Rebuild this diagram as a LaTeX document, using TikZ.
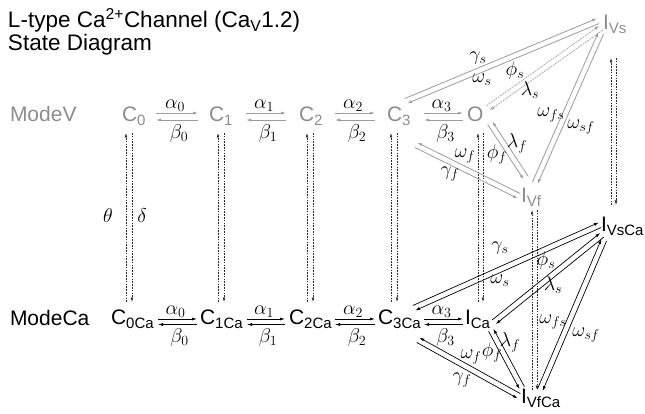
\documentclass[tikz,border=0pt]{standalone}
\usepackage{fix-cm}
\usepackage{fontspec}
\setmainfont{Liberation Sans}
\usetikzlibrary{calc,arrows.meta}
\definecolor{tg}{RGB}{140,140,140}
\definecolor{lg}{RGB}{155,155,155}
\newcommand\nsub[1]{\raisebox{-4pt}{\fontsize{15}{15}\selectfont #1}}
% two opposite parallel arrows between #1 and #2; #4 = side angle for #1->#2
\newcommand\twoway[4]{%
  \draw[#3] ($#1!2.75pt!#4:#2$) -- ($#2!-2.75pt!#4:#1$);
  \draw[#3] ($#2!2.75pt!#4:#1$) -- ($#1!-2.75pt!#4:#2$);}
\tikzset{
  every node/.style={inner sep=0pt, outer sep=0pt},
  st/.style={font=\fontsize{21}{25}\selectfont, anchor=base west},
  stv/.style={st, text=tg},
  ttl/.style={font=\fontsize{22.5}{27}\selectfont, anchor=base west},
  lab/.style={font=\fontsize{20}{24}\selectfont},
  ga/.style={draw=lg, line width=0.8pt, -{Latex[length=5pt,width=3pt]}},
  gd/.style={ga, line width=0.6pt, dash pattern=on 2pt off 0.8pt},
  ba/.style={draw=black, line width=0.7pt, -{Latex[length=5pt,width=3pt]}},
  da/.style={draw=black!85, line width=0.6pt, dash pattern=on 1.6pt off 1.2pt, -{Latex[length=4.5pt,width=2.8pt]}},
}
\begin{document}
\begin{tikzpicture}[x=1pt,y=-1pt]
\useasboundingbox (0,0) rectangle (645,414);
\node[ttl] (title1) at (8,28) {L-type Ca\textsuperscript{2+}Channel (Ca\textsubscript{V}1.2)};
\node[ttl] (title2) at (8,51) {State Diagram};

% top layer (ModeV)
\node[stv] (ModeV) at (10,122) {ModeV};
\node[stv] (C0) at (122,122) {C\nsub{0}};
\node[stv] (C1) at (209,122) {C\nsub{1}};
\node[stv] (C2) at (299,122) {C\nsub{2}};
\node[stv] (C3) at (387,122) {C\nsub{3}};
\node[stv] (O)  at (467,122) {O};
\node[stv] (IVs) at (603,30) {I\nsub{Vs}};
\node[stv] (IVf) at (521,203) {I\nsub{Vf}};

% bottom layer (ModeCa)
\node[st] (ModeCa) at (10,325) {ModeCa};
\node[st] (C0Ca) at (111,324) {C\nsub{0Ca}};
\node[st] (C1Ca) at (200,324) {C\nsub{1Ca}};
\node[st] (C2Ca) at (289,324) {C\nsub{2Ca}};
\node[st] (C3Ca) at (378,324) {C\nsub{3Ca}};
\node[st] (ICa)  at (465,324) {I\nsub{Ca}};
\node[st] (IVsCa) at (601,232) {I\nsub{VsCa}};
\node[st] (IVfCa) at (521,403) {I\nsub{VfCa}};

% top horizontal arrows
\draw[ga] ([shift={(34,-9)}]C0.base west) -- node[lab,above=1.5pt,xshift=-2pt] (a0) {$\alpha_0$} ([shift={(-11,-9)}]C1.base west);
\draw[ga] ([shift={(-11,-2)}]C1.base west) -- node[lab,below=4.5pt,xshift=2pt] (b0) {$\beta_0$} ([shift={(34,-2)}]C0.base west);
\draw[ga] ([shift={(37,-9)}]C1.base west) -- node[lab,above=1.5pt,xshift=-2pt] (a1) {$\alpha_1$} ([shift={(-13,-9)}]C2.base west);
\draw[ga] ([shift={(-13,-2)}]C2.base west) -- node[lab,below=4.5pt,xshift=2pt] (b1) {$\beta_1$} ([shift={(37,-2)}]C1.base west);
\draw[ga] ([shift={(36,-9)}]C2.base west) -- node[lab,above=1.5pt,xshift=-2pt] (a2) {$\alpha_2$} ([shift={(-12,-9)}]C3.base west);
\draw[ga] ([shift={(-12,-2)}]C3.base west) -- node[lab,below=4.5pt,xshift=2pt] (b2) {$\beta_2$} ([shift={(36,-2)}]C2.base west);
\draw[ga] ([shift={(37,-9)}]C3.base west) -- node[lab,above=1.5pt,xshift=-2pt] (a3) {$\alpha_3$} ([shift={(-4,-9)}]O.base west);
\draw[ga] ([shift={(-4,-2)}]O.base west) -- node[lab,below=4.5pt,xshift=2pt] (b3) {$\beta_3$} ([shift={(37,-2)}]C3.base west);

% bottom horizontal arrows
\draw[ba] ([shift={(47,-5)}]C0Ca.base west) -- node[lab,above=1.5pt,xshift=-2pt] (a0c) {$\alpha_0$} ([shift={(-3,-5)}]C1Ca.base west);
\draw[ba] ([shift={(-3,0.5)}]C1Ca.base west) -- node[lab,below=4.5pt,xshift=2pt] (b0c) {$\beta_0$} ([shift={(47,0.5)}]C0Ca.base west);
\draw[ba] ([shift={(47,-5)}]C1Ca.base west) -- node[lab,above=1.5pt,xshift=-2pt] (a1c) {$\alpha_1$} ([shift={(-4,-5)}]C2Ca.base west);
\draw[ba] ([shift={(-4,0.5)}]C2Ca.base west) -- node[lab,below=4.5pt,xshift=2pt] (b1c) {$\beta_1$} ([shift={(47,0.5)}]C1Ca.base west);
\draw[ba] ([shift={(46,-5)}]C2Ca.base west) -- node[lab,above=1.5pt,xshift=-2pt] (a2c) {$\alpha_2$} ([shift={(-3,-5)}]C3Ca.base west);
\draw[ba] ([shift={(-3,0.5)}]C3Ca.base west) -- node[lab,below=4.5pt,xshift=2pt] (b2c) {$\beta_2$} ([shift={(46,0.5)}]C2Ca.base west);
\draw[ba] ([shift={(46,-5)}]C3Ca.base west) -- node[lab,above=1.5pt,xshift=-2pt] (a3c) {$\alpha_3$} ([shift={(-2,-5)}]ICa.base west);
\draw[ba] ([shift={(-2,0.5)}]ICa.base west) -- node[lab,below=4.5pt,xshift=2pt] (b3c) {$\beta_3$} ([shift={(46,0.5)}]C3Ca.base west);

% vertical dashed transitions (left: up, right: down)
\draw[da] ([shift={(15,-22)}]C0Ca.base west) -- ([shift={(4,11)}]C0.base west);
\draw[da] ([shift={(10,11)}]C0.base west) -- ([shift={(21,-22)}]C0Ca.base west);
\draw[da] ([shift={(18,-22)}]C1Ca.base west) -- ([shift={(9,11)}]C1.base west);
\draw[da] ([shift={(15,11)}]C1.base west) -- ([shift={(24,-22)}]C1Ca.base west);
\draw[da] ([shift={(18,-22)}]C2Ca.base west) -- ([shift={(8,11)}]C2.base west);
\draw[da] ([shift={(14,11)}]C2.base west) -- ([shift={(24,-22)}]C2Ca.base west);
\draw[da] ([shift={(13,-22)}]C3Ca.base west) -- ([shift={(4,11)}]C3.base west);
\draw[da] ([shift={(10,11)}]C3.base west) -- ([shift={(19,-22)}]C3Ca.base west);
\draw[da] ([shift={(13,-22)}]ICa.base west) -- ([shift={(11,11)}]O.base west);
\draw[da] ([shift={(16,11)}]O.base west) -- ([shift={(18,-22)}]ICa.base west);
\draw[da] ([shift={(11,-13)}]IVfCa.base west) -- ([shift={(11,7)}]IVf.base west);
\draw[da] ([shift={(16,7)}]IVf.base west) -- ([shift={(16,-13)}]IVfCa.base west);
\draw[da] ([shift={(10,-27)}]IVsCa.base west) -- ([shift={(8,28)}]IVs.base west);
\draw[da] ([shift={(13,28)}]IVs.base west) -- ([shift={(15,-27)}]IVsCa.base west);

% top diagonal pairs
\twoway{([shift={(19,-21)}]C3.base west)}{([shift={(-5,-9)}]IVs.base west)}{ga}{90}
\twoway{([shift={(21,-14)}]O.base west)}{([shift={(-2,-2)}]IVs.base west)}{gd}{90}
\twoway{([shift={(14,-20)}]IVf.base west)}{([shift={(-2,3)}]IVs.base west)}{ga}{90}
\twoway{([shift={(23,1)}]O.base west)}{([shift={(5,-25)}]IVf.base west)}{ga}{-90}
\twoway{([shift={(29,23)}]C3.base west)}{([shift={(-2,-7)}]IVf.base west)}{ga}{-90}

% bottom diagonal pairs
\twoway{([shift={(36,-16)}]C3Ca.base west)}{([shift={(-1,-7)}]IVsCa.base west)}{ba}{90}
\twoway{([shift={(29,-2)}]ICa.base west)}{([shift={(1,3)}]IVsCa.base west)}{ba}{90}
\twoway{([shift={(19,-13)}]IVfCa.base west)}{([shift={(3,8)}]IVsCa.base west)}{ba}{90}
\twoway{([shift={(26,6)}]ICa.base west)}{([shift={(1,-15)}]IVfCa.base west)}{ba}{-90}
\twoway{([shift={(40,16)}]C3Ca.base west)}{([shift={(-2,-7)}]IVfCa.base west)}{ba}{-90}

% labels
\node[lab] (th) at (108,216) {$\theta$};
\node[lab] (de) at (142,216) {$\delta$};
\node[lab] (gs) at (478,58) {$\gamma_s$};
\node[lab] (ws) at (482,80) {$\omega_s$};
\node[lab] (ps) at (515,71) {$\phi_s$};
\node[lab] (ls) at (530,90) {$\lambda_s$};
\node[lab] (wfs) at (551,115) {$\omega_{fs}$};
\node[lab] (wsf) at (581,127) {$\omega_{sf}$};
\node[lab] (lf) at (517,143) {$\lambda_f$};
\node[lab] (pf) at (497,154) {$\phi_f$};
\node[lab] (wf) at (465,156) {$\omega_f$};
\node[lab] (gf) at (450,174) {$\gamma_f$};
\node[lab] (gsc) at (500,248) {$\gamma_s$};
\node[lab] (wsc) at (500,281) {$\omega_s$};
\node[lab] (psc) at (546,260) {$\phi_s$};
\node[lab] (lsc) at (553,285) {$\lambda_s$};
\node[lab] (wfsc) at (553,322) {$\omega_{fs}$};
\node[lab] (wsfc) at (586,335) {$\omega_{sf}$};
\node[lab] (lfc) at (510,342) {$\lambda_f$};
\node[lab] (pfc) at (492,352) {$\phi_f$};
\node[lab] (wfc) at (471,357) {$\omega_f$};
\node[lab] (gfc) at (462,380) {$\gamma_f$};
\end{tikzpicture}
\end{document}
